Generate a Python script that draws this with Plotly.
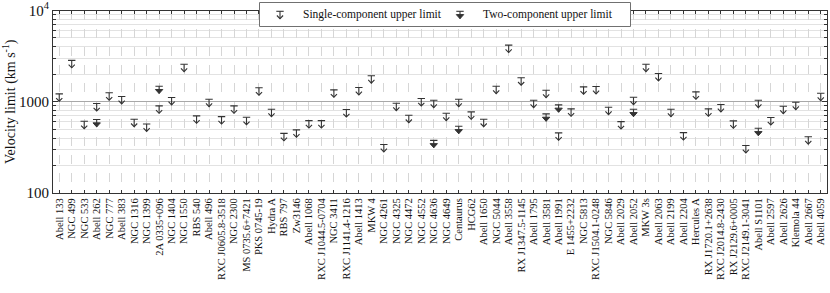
import plotly.graph_objects as go

# ---------------- data ----------------
clusters = [
    "Abell 133", "NGC 499", "NGC 533", "Abell 262", "NGC 777", "Abell 383", "NGC 1316", "NGC 1399",
    "2A 0335+096", "NGC 1404", "NGC 1550", "RBS 540", "Abell 496", "RXC J0605.8-3518", "NGC 2300",
    "MS 0735.6+7421", "PKS 0745-19", "Hydra A", "RBS 797", "Zw3146", "Abell 1068", "RXC J1044.5-0704",
    "NGC 3411", "RXC J1141.4-1216", "Abell 1413", "MKW 4", "NGC 4261", "NGC 4325", "NGC 4472",
    "NGC 4552", "NGC 4636", "NGC 4649", "Centaurus", "HCG62", "Abell 1650", "NGC 5044", "Abell 3558",
    "RX J1347.5-1145", "Abell 1795", "Abell 3581", "Abell 1991", "E 1455+2232", "NGC 5813",
    "RXC J1504.1-0248", "NGC 5846", "Abell 2029", "Abell 2052", "MKW 3s", "Abell 2063", "Abell 2199",
    "Abell 2204", "Hercules A", "RX J1720.1+2638", "RXC J2014.8-2430", "RX J2129.6+0005",
    "RXC J2149.1-3041", "Abell S1101", "Abell 2597", "Abell 2626", "Klemola 44", "Abell 2667",
    "Abell 4059",
]

single_limit = [
    1112, 2585, 556, 870, 1141, 1039, 585, 520,
    821, 1013, 2350, 637, 970, 626, 821,
    615, 1295, 753, 410, 448, 566, 566,
    1230, 748, 1304, 1754, 310, 877, 647,
    987, 946, 681, 970, 705, 585, 1349, 3802,
    1667, 946, 1218, 415, 761, 1327,
    1337, 792, 552, 1020, 2350, 1857, 753,
    418, 1170, 761, 849, 562,
    302, 946, 611, 813, 899, 377,
    1129,
]

two_limit = [
    None, None, None, 581, None, None, None, None,
    1349, None, None, None, None, None, None,
    None, None, None, None, None, None, None,
    None, None, None, None, None, None, None,
    None, 344, None, 490, None, None, None, None,
    None, None, 670, 842, None, None,
    None, None, None, 753, None, None, None,
    None, None, None, None, None,
    None, 466, None, None, None, None,
    None,
]

y_tick_vals = [100, 1000, 10000]
y_tick_text = ["100", "1000", "10<sup>4</sup>"]
y_title = "Velocity limit (km s<sup>-1</sup>)"
legend_labels = ["Single-component upper limit", "Two-component upper limit"]

# ---------------- style ----------------
W, H = 830, 293
ML, MR, MT, MB = 53, 3, 2, 100
PLOT_TOP_PX = 10.5
plot_w = W - ML - MR
paper_h = H - MT - MB
main_top = (H - MB - PLOT_TOP_PX) / paper_h
plot_h = (H - MB) - PLOT_TOP_PX
n = len(clusters)
PX_X = plot_w / n           # pixels per category
PX_DEC = plot_h / 2.0       # pixels per decade
MARK = "#333333"
FONT = "Liberation Serif"

# marker geometry in pixels (y positive = up)
CAP_HW, CAP_DY, TIP_DY = 3.7, 3.7, -3.7
CHEV_HW, CHEV_DY = 3.1, -0.5
TRI_HW, TRI_TOP = 3.7, 0.4


def build(points, tx, ty, filled):
    lx, ly, fx, fy = [], [], [], []
    for cx, cy in points:
        lx += [tx(cx, -CAP_HW), tx(cx, CAP_HW), None, tx(cx, 0), tx(cx, 0), None]
        ly += [ty(cy, CAP_DY), ty(cy, CAP_DY), None, ty(cy, CAP_DY), ty(cy, TIP_DY), None]
        if filled:
            fx += [tx(cx, -TRI_HW), tx(cx, TRI_HW), tx(cx, 0), tx(cx, -TRI_HW), None]
            fy += [ty(cy, TRI_TOP), ty(cy, TRI_TOP), ty(cy, TIP_DY), ty(cy, TRI_TOP), None]
        else:
            lx += [tx(cx, -CHEV_HW), tx(cx, 0), tx(cx, CHEV_HW), None]
            ly += [ty(cy, CHEV_DY), ty(cy, TIP_DY), ty(cy, CHEV_DY), None]
    return lx, ly, fx, fy


main_tx = lambda c, d: c + d / PX_X
main_ty = lambda v, d: v * 10 ** (d / PX_DEC)

fig = go.Figure()

single_pts = [(i, v) for i, v in enumerate(single_limit) if v is not None]
two_pts = [(i, v) for i, v in enumerate(two_limit) if v is not None]

lx, ly, _, _ = build(single_pts, main_tx, main_ty, False)
fig.add_trace(go.Scatter(x=lx, y=ly, mode="lines", line=dict(color=MARK, width=1.1),
                         showlegend=False, hoverinfo="skip"))
lx, ly, fx, fy = build(two_pts, main_tx, main_ty, True)
fig.add_trace(go.Scatter(x=lx, y=ly, mode="lines", line=dict(color=MARK, width=1.1),
                         showlegend=False, hoverinfo="skip"))
fig.add_trace(go.Scatter(x=fx, y=fy, mode="lines", fill="toself", fillcolor=MARK,
                         line=dict(color=MARK, width=1.0), showlegend=False, hoverinfo="skip"))

# ---------------- legend drawn in its own small subplot (pixel coordinates) ----------------
LEG_X0, LEG_X1, LEG_Y0, LEG_Y1 = 259, 631, 2, 27
leg_w, leg_h = LEG_X1 - LEG_X0, LEG_Y1 - LEG_Y0
fig.add_trace(go.Scatter(x=[0.5, leg_w - 0.5, leg_w - 0.5, 0.5, 0.5],
                         y=[0.5, 0.5, leg_h - 0.5, leg_h - 0.5, 0.5],
                         mode="lines", fill="toself", fillcolor="white",
                         line=dict(color="#707070", width=1), xaxis="x2", yaxis="y2",
                         showlegend=False, hoverinfo="skip"))
leg_tx = lambda c, d: c + d
leg_ty = lambda c, d: c - d
leg_cy = 13.0
leg_mark_x = [21, 201]
leg_text_x = [42, 222]
lx, ly, _, _ = build([(leg_mark_x[0], leg_cy)], leg_tx, leg_ty, False)
fig.add_trace(go.Scatter(x=lx, y=ly, mode="lines", line=dict(color=MARK, width=1.1),
                         xaxis="x2", yaxis="y2", showlegend=False, hoverinfo="skip"))
lx, ly, fx, fy = build([(leg_mark_x[1], leg_cy)], leg_tx, leg_ty, True)
fig.add_trace(go.Scatter(x=lx, y=ly, mode="lines", line=dict(color=MARK, width=1.1),
                         xaxis="x2", yaxis="y2", showlegend=False, hoverinfo="skip"))
fig.add_trace(go.Scatter(x=fx, y=fy, mode="lines", fill="toself", fillcolor=MARK,
                         line=dict(color=MARK, width=1.0), xaxis="x2", yaxis="y2",
                         showlegend=False, hoverinfo="skip"))
for tx_, lab in zip(leg_text_x, legend_labels):
    fig.add_annotation(x=tx_, y=leg_cy - 0.5, xref="x2", yref="y2", text=lab, showarrow=False,
                       xanchor="left", yanchor="middle",
                       font=dict(family=FONT, size=11.5, color="#111111"))

minor_vals = [m * 10 ** e for e in (2, 3) for m in range(2, 10)]

fig.update_layout(
    width=W, height=H,
    margin=dict(l=ML, r=MR, t=MT, b=MB, autoexpand=False),
    paper_bgcolor="white", plot_bgcolor="white",
    font=dict(family=FONT, color="#111111"),
    showlegend=False,
    xaxis=dict(
        domain=[0, 1], range=[-0.5, n - 0.5], automargin=False,
        tickmode="array", tickvals=list(range(n)), ticktext=clusters,
        tickangle=-90, tickfont=dict(family=FONT, size=10.5, color="#111111"),
        showgrid=True, gridcolor="#d6d6d6", griddash="dash", gridwidth=0.8,
        ticks="inside", ticklen=3, tickcolor="#333333",
        showline=True, linecolor="#333333", linewidth=1, mirror="ticks",
        zeroline=False, fixedrange=True,
    ),
    yaxis=dict(
        domain=[0, main_top], type="log", range=[2, 4], automargin=False,
        tickmode="array", tickvals=y_tick_vals, ticktext=y_tick_text,
        tickfont=dict(family=FONT, size=15, color="#111111"),
        ticks="inside", ticklen=5, tickcolor="#333333",
        showgrid=True, gridcolor="#a8a8a8", gridwidth=1,
        minor=dict(tickmode="array", tickvals=minor_vals, ticks="inside", ticklen=3,
                   tickcolor="#333333", showgrid=True, gridcolor="#e2e2e2", gridwidth=1),
        showline=True, linecolor="#333333", linewidth=1, mirror="ticks",
        zeroline=False, fixedrange=True,
        title=dict(text=y_title, font=dict(family=FONT, size=14, color="#111111"), standoff=7),
    ),
    xaxis2=dict(domain=[(LEG_X0 - ML) / plot_w, (LEG_X1 - ML) / plot_w], range=[0, leg_w],
                anchor="y2", visible=False, fixedrange=True),
    yaxis2=dict(domain=[(H - MB - LEG_Y1) / paper_h, (H - MB - LEG_Y0) / paper_h],
                range=[leg_h, 0], anchor="x2", visible=False, fixedrange=True),
)

# remove the default 8px page margin so the figure sits at the window's top-left corner
fig.write_html("out.html", config={"displayModeBar": False},
               post_script="document.body.style.margin='0';")
